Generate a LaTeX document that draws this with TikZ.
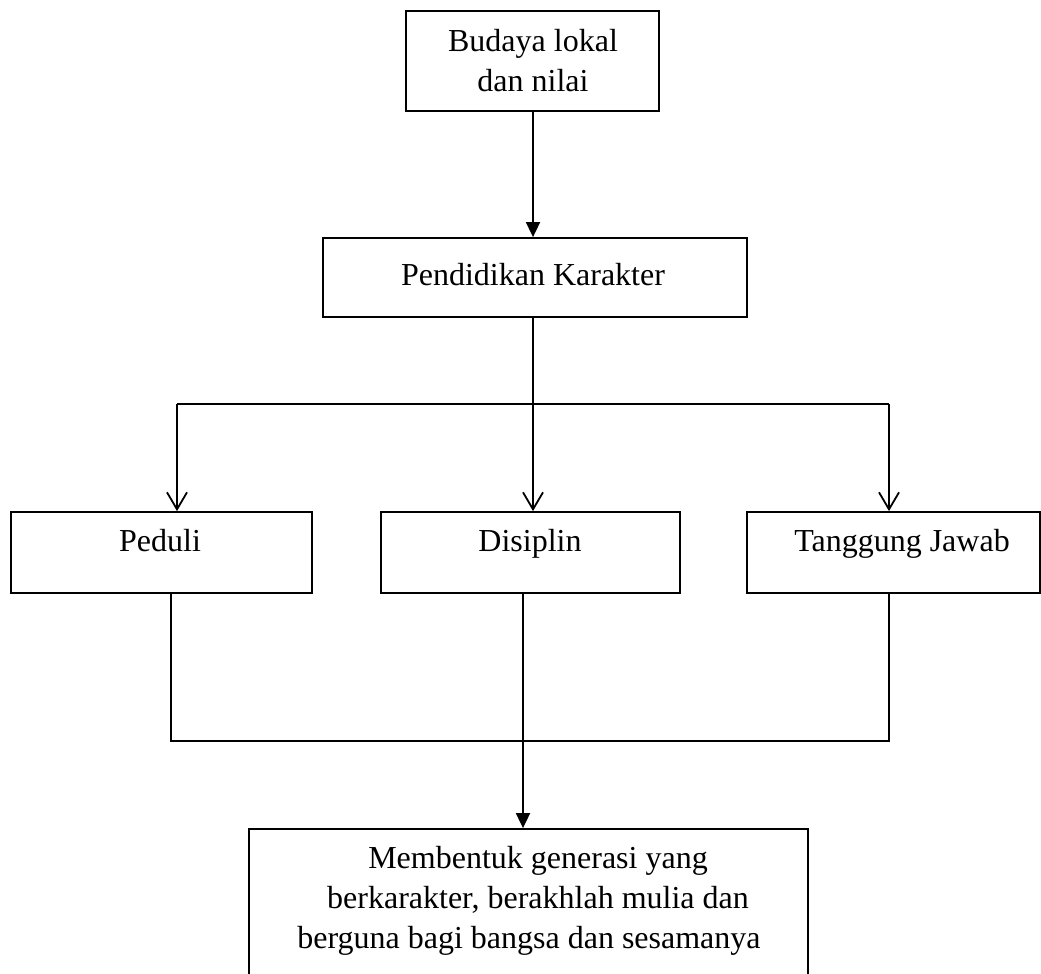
\documentclass[tikz,border=0pt]{standalone}
\usepackage{fontspec}
\setmainfont{Liberation Serif}
\usetikzlibrary{arrows.meta}
\tikzset{
  box/.style={draw=black, line width=1.8pt, rectangle, inner sep=0pt, fill=none},
  lbl/.style={inner sep=0pt, align=center, font=\fontsize{32}{40}\selectfont},
  conn/.style={draw=black, line width=1.8pt},
  solidarrow/.style={conn, -{Triangle[width=14pt,length=15pt]}},
  openarrow/.style={conn, -{Straight Barb[width=20pt,length=17pt,line width=1.8pt]}},
}
\begin{document}
\begin{tikzpicture}[x=1pt,y=-1pt]
\useasboundingbox (0,0) rectangle (1041,974);
\clip (0,0) rectangle (1041,974);
\fill[white] (0,0) rectangle (1041,974);
% boxes
\node[box, minimum width=253pt, minimum height=100pt] (top) at (532.5,61) {};
\node[box, minimum width=424pt, minimum height=79pt] (pend) at (535,277.5) {};
\node[box, minimum width=301pt, minimum height=81pt] (peduli) at (161.5,552.5) {};
\node[box, minimum width=299pt, minimum height=81pt] (disiplin) at (530.5,552.5) {};
\node[box, minimum width=293pt, minimum height=81pt] (tanggung) at (893.5,552.5) {};
\node[box, minimum width=559pt, minimum height=170pt] (bottom) at (528.5,914) {};
% texts
\node[lbl, anchor=base] (ttop1) at (533,52) {Budaya lokal};
\node[lbl, anchor=base] (ttop2) at (533,92) {dan nilai};
\node[lbl, anchor=base] (tpend) at (533,285) {Pendidikan Karakter};
\node[lbl, anchor=base] (tpeduli) at (160,551) {Peduli};
\node[lbl, anchor=base] (tdisiplin) at (530,551) {Disiplin};
\node[lbl, anchor=base] (ttanggung) at (902,551) {Tanggung Jawab};
\node[lbl, anchor=base] (tb1) at (538,868) {Membentuk generasi yang};
\node[lbl, anchor=base] (tb2) at (538,908) {berkarakter, berakhlah mulia dan};
\node[lbl, anchor=base] (tb3) at (529,948) {berguna bagi bangsa dan sesamanya};
% junction coordinates
\coordinate (jtop) at (533,404);
\coordinate (jleft) at (177,404);
\coordinate (jright) at (889,404);
\coordinate (kleft) at (171,741);
\coordinate (kright) at (889,741);
\coordinate (kmid) at (523,741);
% connectors
\draw[solidarrow] (top.south -| jtop) -- (pend.north -| jtop);
\draw[openarrow] (pend.south -| jtop) -- (disiplin.north -| jtop);
\draw[conn] (jleft) -- (jright);
\draw[openarrow] (jleft) -- (peduli.north -| jleft);
\draw[openarrow] (jright) -- (tanggung.north -| jright);
\draw[conn] (peduli.south -| kleft) -- (kleft) -- (kright) -- (tanggung.south -| kright);
\draw[solidarrow] (disiplin.south -| kmid) -- (bottom.north -| kmid);
\end{tikzpicture}
\end{document}
